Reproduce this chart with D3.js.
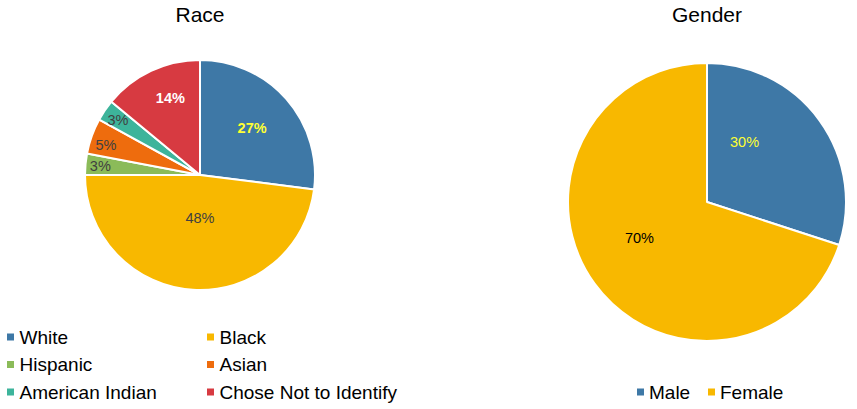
<!DOCTYPE html>
<html lang="en">
<head>
    <meta charset="UTF-8">
    <title>Race and Gender</title>
    <style>
        body { margin: 0; background: #fff; }
        text { font-family: "Liberation Sans", Arial, sans-serif; }
    </style>
</head>
<body>
<div id="graph"></div>

<script src="https://cdnjs.cloudflare.com/ajax/libs/d3/7.8.5/d3.min.js"></script>

<script>
    // data
    const raceNames = ["White", "Black", "Hispanic", "Asian", "American Indian", "Chose Not to Identify"];
    const raceValues = [27, 48, 3, 5, 3, 14];
    const genderNames = ["Male", "Female"];
    const genderValues = [30, 70];

    // colours, one per category
    const raceColors = ["#3e78a6", "#f8b800", "#8bbb59", "#ee6c0d", "#3db49b", "#d73a41"];
    const genderColors = ["#3e78a6", "#f8b800"];

    // label look + where it sits (angle in degrees from top, radius as fraction of r)
    const raceLabelStyle = [
        {fill: "#ffff33", weight: "bold", angle: 48, dist: 0.61},
        {fill: "#404040", weight: "normal", angle: 180, dist: 0.37},
        {fill: "#404040", weight: "normal", angle: 275, dist: 0.87},
        {fill: "#404040", weight: "normal", angle: 288, dist: 0.86},
        {fill: "#404040", weight: "normal", angle: 304, dist: 0.86},
        {fill: "#ffffff", weight: "bold", angle: 339, dist: 0.72}
    ];
    const genderLabelStyle = [
        {fill: "#ffff33", weight: "normal", angle: 32, dist: 0.51},
        {fill: "#000000", weight: "normal", angle: 242, dist: 0.55}
    ];

    const width = 857, height = 409;

    const svg = d3.select("#graph")
        .append("svg")
        .attr("width", width)
        .attr("height", height);

    function drawPie(cfg) {
        const g = svg.append("g")
            .attr("transform", `translate(${cfg.cx},${cfg.cy})`);

        const pie = d3.pie().sort(null).value(d => d);
        const arc = d3.arc().innerRadius(0).outerRadius(cfg.r);
        const arcs = pie(cfg.values);

        g.selectAll("path")
            .data(arcs)
            .enter()
            .append("path")
            .attr("d", arc)
            .style("fill", (d, i) => cfg.colors[i])
            .style("stroke", "#fff")
            .style("stroke-width", 2)
            .style("stroke-linejoin", "round");

        g.selectAll("text.lbl")
            .data(arcs)
            .enter()
            .append("text")
            .attr("class", "lbl")
            .attr("transform", (d, i) => {
                const s = cfg.labels[i];
                const p = d3.pointRadial(s.angle * Math.PI / 180, s.dist * cfg.r);
                return `translate(${p[0]},${p[1]})`;
            })
            .attr("text-anchor", "middle")
            .attr("dy", "0.35em")
            .style("font-size", "14.5px")
            .style("fill", (d, i) => cfg.labels[i].fill)
            .style("font-weight", (d, i) => cfg.labels[i].weight)
            .text(d => d.data + "%");

        svg.append("text")
            .attr("x", cfg.cx)
            .attr("y", 22)
            .attr("text-anchor", "middle")
            .style("font-size", "21px")
            .style("fill", "#000")
            .text(cfg.title);
    }

    drawPie({title: "Race", cx: 200, cy: 175, r: 115,
        values: raceValues, colors: raceColors, labels: raceLabelStyle});
    drawPie({title: "Gender", cx: 707, cy: 202, r: 139,
        values: genderValues, colors: genderColors, labels: genderLabelStyle});

    // race legend, two columns
    const rItems = svg.append("g").selectAll("g")
        .data(raceNames)
        .enter()
        .append("g")
        .attr("transform", (d, i) => `translate(${i % 2 === 0 ? 7 : 207},${337 + Math.floor(i / 2) * 27.5})`);
    rItems.append("rect")
        .attr("x", 0).attr("y", -3.5)
        .attr("width", 7).attr("height", 7)
        .style("fill", (d, i) => raceColors[i]);
    rItems.append("text")
        .attr("x", 12.5)
        .attr("dy", "0.35em")
        .style("font-size", "19px")
        .text(d => d);

    // gender legend, one row
    const gItems = svg.append("g").selectAll("g")
        .data(genderNames)
        .enter()
        .append("g")
        .attr("transform", (d, i) => `translate(${i === 0 ? 637 : 708},392)`);
    gItems.append("rect")
        .attr("x", 0).attr("y", -3.5)
        .attr("width", 7).attr("height", 7)
        .style("fill", (d, i) => genderColors[i]);
    gItems.append("text")
        .attr("x", 12)
        .attr("dy", "0.35em")
        .style("font-size", "19px")
        .text(d => d);
</script>
</body>
</html>
